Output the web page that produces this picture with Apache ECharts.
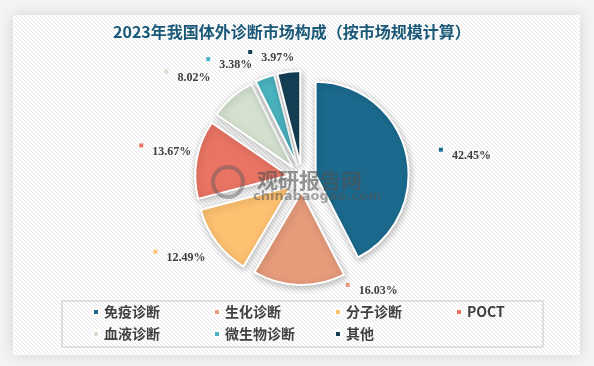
<!DOCTYPE html>
<html><head><meta charset="utf-8">
<script src="https://cdn.jsdelivr.net/npm/echarts@6/dist/echarts.min.js"></script>
<style>html,body{margin:0;padding:0;background:#f6f6f6}#c{width:594px;height:366px}</style>
</head><body><div id="c"></div>
<script>
const titleText = '2023年我国体外诊断市场构成（按市场规模计算）';
const categories = ['免疫诊断','生化诊断','分子诊断','POCT','血液诊断','微生物诊断','其他'];
const shares = [42.45, 16.03, 12.49, 13.67, 8.02, 3.38, 3.97];
const colors = ['#1b6a8e','#e69b7b','#fec171','#e97463','#d4e1cf','#4bb4c1','#153f56'];
// manual label nudges (the source chart's labels were moved by hand)
const labelNudge = [[21,8],[74,-16],[-6,2],[7,-4],[-21,-3],[-23,8],[-13,8]];

const CX = 302, CY = 178, R = 93, LABEL_D = 120;
const total = shares.reduce((a,b)=>a+b,0);
let acc = 0;
const midAngles = shares.map(v => { const m = (acc + v/2)/total*2*Math.PI; acc += v; return m; });

const pc = document.createElement('canvas'); pc.width = 4; pc.height = 4;
const g = pc.getContext('2d'); g.fillStyle = '#ffffff'; g.fillRect(0,0,4,4);
g.fillStyle = '#e6e6e6'; for (let i=0;i<4;i++) g.fillRect(i,i,1,1);

const chart = echarts.init(document.getElementById('c'), null, {renderer:'canvas'});
const legendText = {fontSize:14, fontWeight:'bold', color:'#404040', width:101, lineHeight:16, fontFamily:'"Noto Sans CJK SC", sans-serif'};
chart.setOption({
  animation:false,
  backgroundColor:'#f4f4f4',
  title:{text:titleText, left:113, top:24, padding:0,
    textStyle:{fontSize:16, fontWeight:'bold', color:'#1a5878', fontFamily:'"Noto Sans CJK SC", sans-serif'}},
  graphic:[
    {type:'rect', z:-10, shape:{x:13,y:15,width:567,height:340},
     style:{fill:{image:pc, repeat:'repeat'}, shadowBlur:14, shadowColor:'rgba(0,0,0,0.14)'}},
    {type:'rect', z:-5, shape:{x:62,y:301,width:481,height:46},
     style:{fill:'rgba(0,0,0,0)', stroke:'#d8d8d8', lineWidth:1.5}},
    {type:'circle', z:100, shape:{cx:228,cy:182,r:15}, silent:true,
     style:{fill:'none', stroke:'rgba(90,90,90,0.45)', lineWidth:4}},
    {type:'text', z:100, left:257, top:170, silent:true,
     style:{text:'观研报告网', fontSize:21, fontWeight:'bold', fill:'rgba(80,80,80,0.6)', fontFamily:'"Noto Sans CJK SC", sans-serif'}},
    {type:'text', z:100, left:253, top:190, silent:true,
     style:{text:'chinabaogao.com', fontSize:13, fontWeight:'bold', fill:'rgba(80,80,80,0.5)', fontFamily:'"DejaVu Sans", sans-serif'}}
  ],
  legend:[
    {data:categories.slice(0,4), left:87, top:299, orient:'horizontal', icon:'rect', itemWidth:6, itemHeight:6, itemGap:8, textStyle:legendText},
    {data:categories.slice(4), left:87, top:321, orient:'horizontal', icon:'rect', itemWidth:6, itemHeight:6, itemGap:8, textStyle:legendText}
  ],
  series:[{
    type:'pie', center:[CX,CY], radius:R, startAngle:90, clockwise:true,
    selectedMode:'multiple', selectedOffset:14,
    emphasis:{scale:false},
    itemStyle:{borderColor:'#ffffff', borderWidth:2, shadowBlur:7, shadowColor:'rgba(0,0,0,0.25)', shadowOffsetX:1, shadowOffsetY:2},
    label:{show:false}, labelLine:{show:false},
    data: categories.map((name,i) => ({name, value: shares[i], selected:true, itemStyle:{color:colors[i]}}))
  },{
    type:'pie', center:[CX,CY], radius:R, startAngle:90, clockwise:true,
    silent:true, selectedMode:false, z:5,
    emphasis:{disabled:true},
    itemStyle:{color:'rgba(0,0,0,0)', borderWidth:0},
    labelLine:{show:false},
    label:{show:true, position:'outside',
      formatter: p => '{m|}{t|' + p.value.toFixed(2) + '%}'},
    labelLayout: function (p) {
      const a = midAngles[p.dataIndex];
      const dx = Math.sin(a), dy = -Math.cos(a);
      const w = p.labelRect.width, h = p.labelRect.height;
      const n = labelNudge[p.dataIndex];
      return {x: CX + LABEL_D*dx + dx*w/2 + n[0], y: CY + LABEL_D*dy + dy*h/2 + n[1], align:'center', verticalAlign:'middle'};
    },
    data: categories.map((name,i) => ({
      name, value: shares[i],
      itemStyle:{color:'rgba(0,0,0,0)'},
      label:{rich:{
        m:{width:4, height:4, backgroundColor:colors[i], verticalAlign:'top'},
        t:{fontSize:12, fontWeight:'bold', color:'#404040', fontFamily:'"Liberation Serif", serif', padding:[0,0,0,9], lineHeight:16}
      }}
    }))
  }]
});
</script></body></html>
